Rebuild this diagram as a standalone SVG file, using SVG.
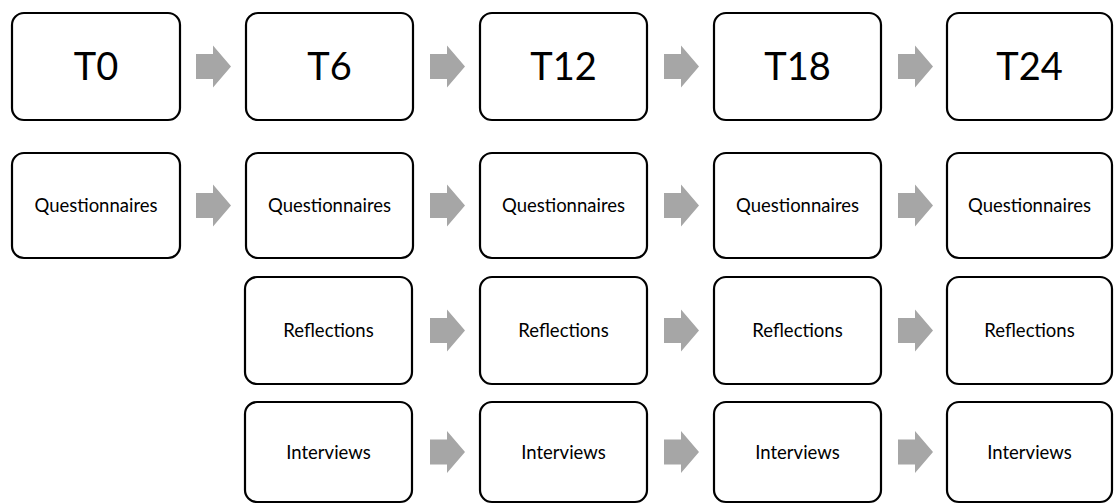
<svg xmlns="http://www.w3.org/2000/svg" width="1114" height="504" viewBox="0 0 1114 504">
<style>
.box{fill:#fff;stroke:#000;stroke-width:2.2}
.big{font-family:Lato,"Liberation Sans",sans-serif;font-size:38px;fill:#000;text-anchor:middle}
.sm{font-family:Lato,"Liberation Sans",sans-serif;font-size:18.5px;fill:#000;text-anchor:middle}
.arr{fill:#a6a6a6}
</style>
<defs>
<path id="a" class="arr" d="M0,-12.5 H17 V-21 L35,0 L17,21 V12.5 H0 Z"/>
</defs>
<rect width="1114" height="504" fill="#fff"/>
<g id="connectors">
<use href="#a" x="196" y="66.5"/>
<use href="#a" x="430" y="66.5"/>
<use href="#a" x="664" y="66.5"/>
<use href="#a" x="898" y="66.5"/>
<use href="#a" x="196" y="205.5"/>
<use href="#a" x="430" y="205.5"/>
<use href="#a" x="664" y="205.5"/>
<use href="#a" x="898" y="205.5"/>
<use href="#a" x="430" y="330.5"/>
<use href="#a" x="664" y="330.5"/>
<use href="#a" x="898" y="330.5"/>
<use href="#a" x="430" y="452"/>
<use href="#a" x="664" y="452"/>
<use href="#a" x="898" y="452"/>
</g>
<g id="t0"><rect class="box" x="12" y="13" width="168" height="107" rx="12"/><text class="big" x="96" y="80">T0</text></g>
<g id="t6"><rect class="box" x="246" y="13" width="167" height="107" rx="12"/><text class="big" x="329.5" y="80">T6</text></g>
<g id="t12"><rect class="box" x="480" y="13" width="167" height="107" rx="12"/><text class="big" x="563.5" y="80">T12</text></g>
<g id="t18"><rect class="box" x="714" y="13" width="167" height="107" rx="12"/><text class="big" x="797.5" y="80">T18</text></g>
<g id="t24"><rect class="box" x="947" y="13" width="165" height="107" rx="12"/><text class="big" x="1029.5" y="80">T24</text></g>
<g id="q0"><rect class="box" x="12" y="153" width="168" height="105" rx="12"/><text class="sm" x="96" y="212">Questionnaires</text></g>
<g id="q6"><rect class="box" x="246" y="153" width="167" height="105" rx="12"/><text class="sm" x="329.5" y="212">Questionnaires</text></g>
<g id="q12"><rect class="box" x="480" y="153" width="167" height="105" rx="12"/><text class="sm" x="563.5" y="212">Questionnaires</text></g>
<g id="q18"><rect class="box" x="714" y="153" width="167" height="105" rx="12"/><text class="sm" x="797.5" y="212">Questionnaires</text></g>
<g id="q24"><rect class="box" x="947" y="153" width="165" height="105" rx="12"/><text class="sm" x="1029.5" y="212">Questionnaires</text></g>
<g id="r6"><rect class="box" x="245" y="277" width="167" height="107" rx="12"/><text class="sm" x="328.5" y="337">Reflections</text></g>
<g id="r12"><rect class="box" x="480" y="277" width="167" height="107" rx="12"/><text class="sm" x="563.5" y="337">Reflections</text></g>
<g id="r18"><rect class="box" x="714" y="277" width="167" height="107" rx="12"/><text class="sm" x="797.5" y="337">Reflections</text></g>
<g id="r24"><rect class="box" x="947" y="277" width="165" height="107" rx="12"/><text class="sm" x="1029.5" y="337">Reflections</text></g>
<g id="i6"><rect class="box" x="245" y="402" width="167" height="100" rx="12"/><text class="sm" x="328.5" y="459">Interviews</text></g>
<g id="i12"><rect class="box" x="480" y="402" width="167" height="100" rx="12"/><text class="sm" x="563.5" y="459">Interviews</text></g>
<g id="i18"><rect class="box" x="714" y="402" width="167" height="100" rx="12"/><text class="sm" x="797.5" y="459">Interviews</text></g>
<g id="i24"><rect class="box" x="947" y="402" width="165" height="100" rx="12"/><text class="sm" x="1029.5" y="459">Interviews</text></g>
</svg>
